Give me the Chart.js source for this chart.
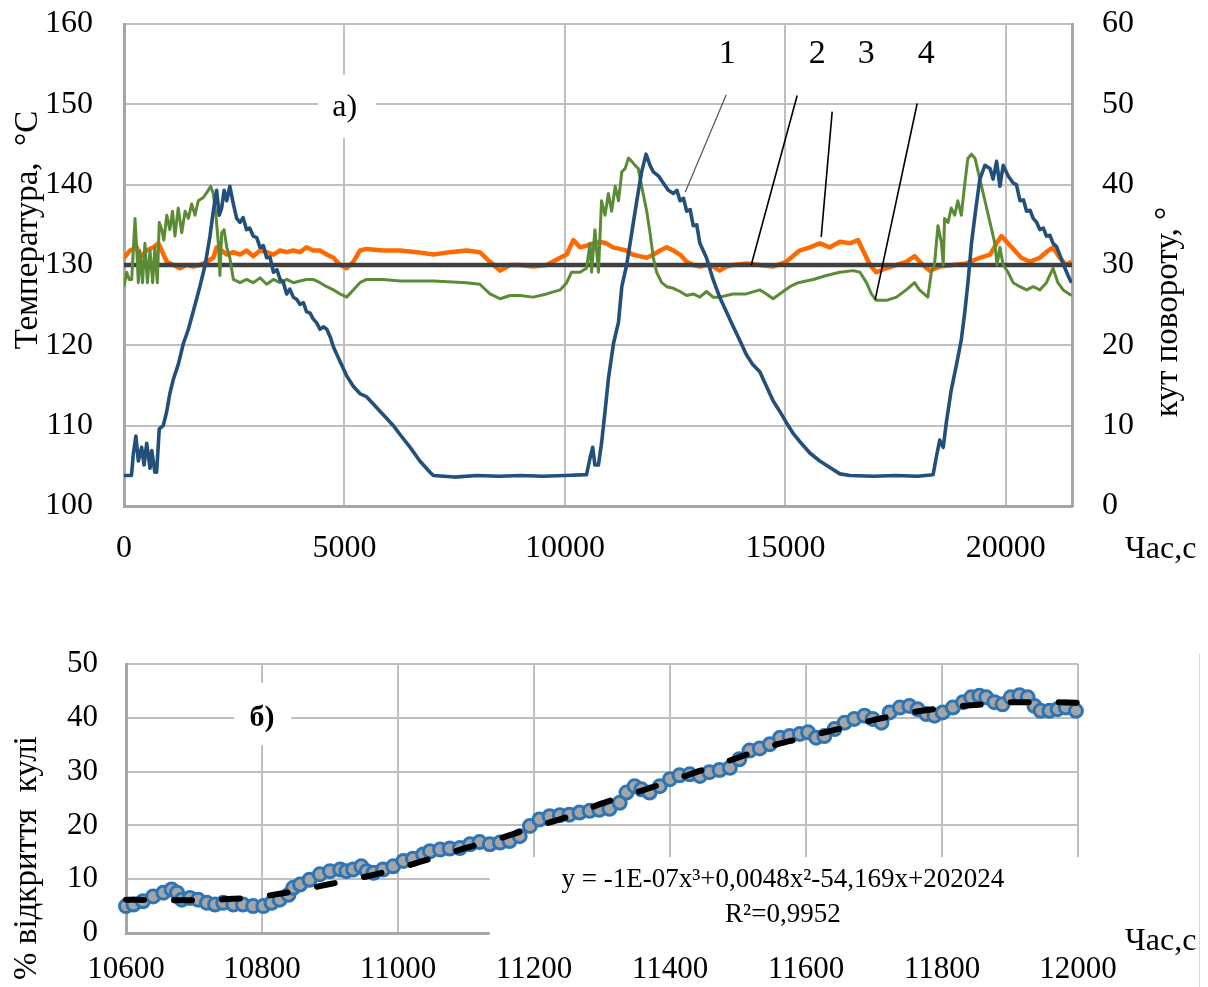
<!DOCTYPE html>
<html>
<head>
<meta charset="utf-8">
<script src="https://cdn.jsdelivr.net/npm/chart.js@4.4.1/dist/chart.umd.min.js"></script>
<style>
html,body{margin:0;padding:0;background:#fff;}
#wrap{position:relative;width:1208px;height:987px;overflow:hidden;background:#fff;}
#cA{position:absolute;left:0;top:0;}
#cB{position:absolute;left:0;top:620px;}
#edge{position:absolute;left:1199px;top:653px;width:1px;height:334px;background:#dcdcdc;}
</style>
</head>
<body>
<div id="wrap">
<canvas id="cA" width="1208" height="600"></canvas>
<canvas id="cB" width="1208" height="367"></canvas>
<div id="edge"></div>
</div>
<script>
// ---------- TICKS ----------
const topTimeTicks = [0, 5000, 10000, 15000, 20000];
const tempTicks = [100, 110, 120, 130, 140, 150, 160];
const angleTicks = [0, 10, 20, 30, 40, 50, 60];
const bottomTimeTicks = [10600, 10800, 11000, 11200, 11400, 11600, 11800, 12000];
const openingTicks = [0, 10, 20, 30, 40, 50];

// ---------- DATA: chart a) (time, s ; value) ----------
// curve 1 : valve rotation angle, degrees (right axis)
const blueSeries = [[0,3.8],[170,3.8],[210,6.4],[270,8.7],[325,5.6],[400,7.3],[455,5.1],[515,7.8],[590,4.7],[630,6.9],[700,4.2],[740,4.2],[800,9.6],[890,10.0],[970,11.8],[1040,14.0],[1120,15.8],[1230,17.6],[1345,20.2],[1460,22.0],[1570,24.2],[1720,27.3],[1840,30.0],[1950,33.6],[2025,36.7],[2100,39.3],[2160,36.2],[2215,37.1],[2270,39.3],[2330,38.0],[2400,39.8],[2480,37.6],[2555,35.8],[2630,35.3],[2700,35.9],[2780,34.4],[2850,34.6],[2930,33.6],[3010,33.4],[3085,32.2],[3160,32.4],[3235,30.9],[3310,31.0],[3390,29.1],[3470,29.4],[3540,28.2],[3610,27.9],[3690,26.4],[3760,27.0],[3840,26.0],[3920,25.7],[3990,25.1],[4070,25.3],[4140,24.2],[4220,24.0],[4290,23.3],[4370,22.8],[4445,22.0],[4520,22.3],[4600,22.0],[4680,21.0],[4750,19.8],[4900,18.0],[5050,16.2],[5200,14.9],[5350,14.0],[5500,13.6],[5655,12.7],[5805,11.8],[5960,10.9],[6110,10.0],[6260,8.9],[6490,7.3],[6710,5.6],[6940,4.2],[7015,3.8],[7500,3.6],[8000,3.8],[8500,3.7],[9000,3.8],[9500,3.7],[10000,3.8],[10490,3.9],[10570,6.0],[10630,7.3],[10680,5.1],[10760,5.1],[10830,7.8],[10910,11.8],[10985,15.8],[11100,20.2],[11215,22.9],[11290,27.3],[11400,30.0],[11515,34.0],[11630,38.0],[11740,41.6],[11840,43.8],[11930,42.4],[12005,41.6],[12120,41.1],[12230,40.2],[12345,39.3],[12460,38.9],[12540,39.3],[12610,38.0],[12690,38.3],[12760,36.7],[12840,36.9],[12910,34.9],[12990,35.0],[13060,32.7],[13210,30.9],[13360,28.2],[13510,26.0],[13660,24.2],[13810,22.4],[13960,20.7],[14110,18.9],[14260,17.6],[14420,16.7],[14570,14.9],[14720,13.1],[14870,11.8],[15020,10.4],[15180,9.0],[15330,8.0],[15555,6.6],[15780,5.6],[16010,4.8],[16235,4.0],[16470,3.8],[17000,3.7],[17500,3.8],[18000,3.7],[18350,3.9],[18420,6.0],[18500,8.2],[18580,7.3],[18650,10.4],[18760,14.4],[18880,17.6],[18990,20.7],[19070,24.2],[19140,27.8],[19220,32.7],[19300,36.2],[19410,40.7],[19525,42.4],[19640,42.0],[19710,40.7],[19790,42.9],[19865,39.8],[19940,42.4],[20050,41.1],[20165,40.2],[20240,40.0],[20320,38.0],[20400,38.1],[20470,36.7],[20550,36.8],[20620,35.8],[20700,35.3],[20770,34.4],[20850,34.6],[20920,33.6],[21000,33.7],[21070,32.7],[21150,32.3],[21220,31.3],[21340,29.6],[21450,28.2],[21490,27.8]];
// curve 2 : set point, °C
const setpointSeries = [[0,130],[21500,130]];
// curve 3 : temperature, °C (orange)
const orangeSeries = [[0,130.9],[135,131.8],[290,132.2],[360,130.9],[515,131.8],[665,132.2],[780,132.7],[855,131.8],[970,130.4],[1120,130.0],[1270,129.6],[1420,130.0],[1570,129.8],[1720,130.0],[1875,130.4],[2025,130.9],[2100,132.2],[2215,131.8],[2330,131.3],[2480,131.6],[2630,131.3],[2780,131.8],[2930,131.1],[3085,131.8],[3235,131.6],[3390,131.3],[3540,131.8],[3690,131.6],[3840,131.8],[3990,131.6],[4140,132.2],[4290,131.8],[4445,131.8],[4600,131.3],[4750,130.9],[4900,130.0],[5050,129.6],[5200,130.4],[5350,131.8],[5500,132.0],[5880,131.8],[6260,131.8],[6640,131.6],[7015,131.3],[7395,131.6],[7770,131.8],[8070,131.6],[8300,130.4],[8530,129.3],[8755,130.0],[8980,130.0],[9280,129.8],[9585,130.0],[9890,130.9],[10040,131.3],[10190,133.1],[10340,132.2],[10490,132.4],[10640,132.7],[10790,132.9],[10940,132.7],[11090,132.2],[11240,132.0],[11390,131.8],[11540,131.3],[11690,131.1],[11855,130.9],[12005,131.3],[12160,131.8],[12310,132.2],[12460,131.8],[12610,131.3],[12760,130.4],[12910,130.0],[13060,129.8],[13210,130.0],[13360,129.8],[13510,129.3],[13660,129.8],[13810,130.0],[14110,130.2],[14420,130.0],[14720,129.8],[15020,130.4],[15320,131.8],[15555,132.2],[15780,132.7],[16010,132.2],[16235,132.9],[16460,132.7],[16650,133.1],[16760,131.8],[16920,130.0],[17060,129.1],[17290,129.6],[17520,130.0],[17740,130.4],[17930,131.1],[18120,130.0],[18270,129.3],[18500,129.8],[18800,130.0],[19100,130.2],[19410,130.9],[19640,131.3],[19790,132.7],[19900,133.6],[20050,132.7],[20200,131.8],[20350,130.9],[20545,130.4],[20770,130.9],[20960,131.8],[21070,132.2],[21220,130.9],[21370,130.0],[21490,130.4]];
// curve 4 : temperature, °C (green)
const greenSeries = [[0,127.3],[60,129.1],[120,128.2],[175,128.2],[250,135.8],[290,131.8],[325,127.8],[360,131.8],[420,127.8],[475,132.7],[530,127.8],[590,131.8],[650,127.8],[700,132.2],[755,127.8],[800,135.3],[855,134.4],[905,133.1],[970,136.2],[1040,134.4],[1100,136.7],[1155,133.6],[1230,137.1],[1310,134.0],[1385,136.7],[1460,135.8],[1535,137.6],[1610,136.2],[1685,138.0],[1800,138.4],[1910,139.3],[1965,139.8],[2025,138.9],[2085,136.2],[2140,132.7],[2175,128.7],[2215,134.0],[2270,134.4],[2330,132.2],[2400,130.9],[2480,128.2],[2630,127.8],[2780,128.2],[2930,127.8],[3085,128.4],[3235,127.6],[3390,128.2],[3540,127.8],[3690,128.2],[3840,127.8],[3990,128.0],[4140,128.2],[4290,128.2],[4445,127.8],[4600,127.3],[4750,126.9],[4900,126.4],[5050,126.0],[5200,126.9],[5350,127.8],[5500,128.2],[5880,128.2],[6260,128.0],[7015,128.0],[7770,127.8],[8070,127.6],[8300,126.4],[8530,125.8],[8755,126.2],[8980,126.2],[9280,126.0],[9585,126.4],[9890,126.9],[10040,127.8],[10150,129.1],[10340,129.1],[10490,129.6],[10570,132.7],[10605,129.1],[10680,134.4],[10760,129.1],[10830,138.0],[10910,136.2],[10985,138.9],[11060,136.7],[11140,139.8],[11215,138.0],[11290,141.6],[11365,142.0],[11440,143.3],[11515,142.9],[11590,142.4],[11665,142.0],[11740,139.8],[11855,136.7],[11930,134.0],[12005,130.9],[12080,129.1],[12195,127.8],[12310,127.3],[12460,127.1],[12610,126.7],[12760,126.2],[12910,126.4],[13060,126.0],[13210,126.7],[13360,126.0],[13510,126.0],[13810,126.4],[14110,126.4],[14420,126.9],[14570,126.4],[14720,125.8],[14870,126.4],[15100,127.3],[15290,127.8],[15630,128.2],[15930,128.7],[16235,129.1],[16540,129.3],[16690,129.1],[16840,127.8],[16950,126.4],[17060,125.6],[17290,125.6],[17520,126.0],[17740,126.9],[17930,127.8],[18040,126.9],[18230,126.0],[18310,129.1],[18380,130.0],[18460,134.9],[18540,132.7],[18580,130.0],[18610,135.8],[18690,135.3],[18760,137.1],[18840,136.2],[18910,138.0],[18990,136.2],[19070,140.2],[19140,143.3],[19220,143.8],[19300,143.3],[19410,140.7],[19525,138.0],[19640,135.3],[19750,132.7],[19800,130.0],[19865,132.2],[19940,130.0],[20050,129.1],[20165,127.8],[20320,127.3],[20470,126.9],[20620,127.3],[20770,126.9],[20920,127.8],[21070,129.6],[21180,127.8],[21300,126.9],[21490,126.2]];

// ---------- DATA: chart б) ----------
const openingSeries = [[10600,5.0],[10611,5.3],[10625,5.9],[10640,6.8],[10655,7.5],[10667,8.1],[10675,7.5],[10682,6.2],[10694,6.5],[10706,6.2],[10719,5.6],[10731,5.3],[10743,5.6],[10758,5.3],[10772,5.3],[10787,5.0],[10802,5.0],[10814,5.6],[10826,6.2],[10839,7.1],[10846,8.4],[10856,9.0],[10870,9.9],[10885,10.9],[10900,11.5],[10915,11.8],[10924,11.5],[10934,11.8],[10946,12.4],[10954,11.5],[10964,11.2],[10978,11.8],[10993,12.4],[11008,13.4],[11022,13.8],[11037,14.6],[11047,15.2],[11062,15.5],[11076,15.7],[11091,15.8],[11106,16.5],[11120,16.9],[11135,16.5],[11150,16.8],[11164,17.1],[11179,18.0],[11194,19.9],[11208,21.1],[11223,21.7],[11238,21.9],[11252,22.0],[11267,22.4],[11282,22.7],[11296,22.9],[11311,23.1],[11326,24.2],[11336,26.1],[11348,27.3],[11358,26.7],[11370,26.1],[11385,27.3],[11400,28.6],[11414,29.3],[11429,29.5],[11444,29.2],[11458,29.9],[11473,30.3],[11488,30.7],[11502,32.3],[11517,33.9],[11532,34.3],[11547,35.1],[11562,36.3],[11576,36.6],[11591,37.0],[11603,37.3],[11615,36.3],[11627,36.6],[11642,37.9],[11657,39.1],[11671,39.8],[11686,40.4],[11698,39.8],[11711,39.1],[11723,41.0],[11738,41.9],[11752,42.2],[11764,41.6],[11777,40.7],[11789,40.4],[11801,41.0],[11816,41.9],[11831,42.9],[11843,43.8],[11855,44.1],[11865,43.8],[11877,42.9],[11889,42.5],[11901,43.8],[11914,44.2],[11926,43.8],[11936,42.2],[11945,41.3],[11958,41.3],[11970,41.6],[11982,41.9],[11997,41.3]];
const trendSeries = [[10600,6.2],[10650,6.1],[10700,6.1],[10750,6.3],[10800,6.8],[10850,7.8],[10900,9.1],[10950,10.4],[11000,12.0],[11050,13.9],[11100,15.8],[11150,17.6],[11200,19.7],[11250,21.6],[11300,24.1],[11350,26.1],[11400,28.2],[11450,30.4],[11500,32.6],[11550,34.8],[11600,36.4],[11650,38.0],[11700,39.6],[11750,40.9],[11800,41.8],[11850,42.4],[11900,42.9],[11950,42.9],[12000,42.8]];

// ---------- TEXT ----------
const topLeftTitle = 'Температура,  °C';
const topRightTitle = 'кут повороту, °';
const timeTitle = 'Час,с';
const bottomLeftTitle = '% відкриття  кулі';
const eqLine1 = 'y = -1E-07x³+0,0048x²-54,169x+202024';
const eqLine2 = 'R²=0,9952';
const panelA = 'а)';
const panelB = 'б)';
// curve number labels: [text, labelT, labelV, lineFromT, lineFromV, lineToT, lineToV]
const curveLabels = [
  ['1', 13680, 156.3, 13658, 151.2, 12730, 139.1],
  ['2', 15721, 156.3, 15267, 151.1, 14225, 130.0],
  ['3', 16832, 156.3, 16061, 149.1, 15812, 133.5],
  ['4', 18193, 156.3, 17989, 150.1, 17036, 125.7]
];

const SERIF = "'Liberation Serif', 'Times New Roman', serif";
const toXY = arr => arr.map(([x, y]) => ({x, y}));
const GRID = '#bfbfbf';
const BORDER = '#a6a6a6';
const NONE = 'rgba(0,0,0,0)';
const setTicks = list => (s => { s.ticks = list.map(v => ({value: v})); });

function vText(ctx, text, x, y, size) {
  ctx.save();
  ctx.translate(x, y);
  ctx.rotate(-Math.PI / 2);
  ctx.font = size + 'px ' + SERIF;
  ctx.textAlign = 'center';
  ctx.textBaseline = 'middle';
  ctx.fillStyle = '#000';
  ctx.fillText(text, 0, 0);
  ctx.restore();
}
function boxText(ctx, xs, ys, t0, t1, v0, v1, tc, vc, text, font) {
  const xa = xs.getPixelForValue(t0), xb = xs.getPixelForValue(t1);
  const ya = ys.getPixelForValue(v0), yb = ys.getPixelForValue(v1);
  ctx.save();
  ctx.fillStyle = '#fff';
  ctx.fillRect(Math.min(xa, xb), Math.min(ya, yb), Math.abs(xb - xa), Math.abs(yb - ya));
  ctx.font = font;
  ctx.fillStyle = '#000';
  ctx.textAlign = 'center';
  ctx.textBaseline = 'middle';
  ctx.fillText(text, xs.getPixelForValue(tc), ys.getPixelForValue(vc));
  ctx.restore();
}

const topDecor = {
  id: 'topDecor',
  beforeDatasetsDraw(chart) {
    const {ctx, scales: {x, y}} = chart;
    boxText(ctx, x, y, 4400, 5710, 153.7, 145.8, 5005, 149.6, panelA, '32px ' + SERIF);
  },
  afterDatasetsDraw(chart) {
    const {ctx, scales: {x, y}} = chart;
    ctx.save();
    curveLabels.forEach(([txt, lt, lv, ft, fv, tt, tv], i) => {
      ctx.beginPath();
      ctx.strokeStyle = i === 0 ? '#555' : '#000';
      ctx.lineWidth = i === 0 ? 1.2 : 1.6;
      ctx.moveTo(x.getPixelForValue(ft), y.getPixelForValue(fv));
      ctx.lineTo(x.getPixelForValue(tt), y.getPixelForValue(tv));
      ctx.stroke();
      ctx.font = '34px ' + SERIF;
      ctx.fillStyle = '#000';
      ctx.textAlign = 'center';
      ctx.textBaseline = 'middle';
      ctx.fillText(txt, x.getPixelForValue(lt), y.getPixelForValue(lv));
    });
    ctx.restore();
  },
  afterDraw(chart) {
    const {ctx, chartArea: ca} = chart;
    vText(ctx, topLeftTitle, ca.left - 96, 230, 33);
    vText(ctx, topRightTitle, ca.right + 96, 312, 33);
    ctx.save();
    ctx.font = '32px ' + SERIF;
    ctx.fillStyle = '#000';
    ctx.textAlign = 'left';
    ctx.textBaseline = 'middle';
    ctx.fillText(timeTitle, ca.right + 53, ca.bottom + 44);
    ctx.restore();
  }
};

const bottomDecor = {
  id: 'bottomDecor',
  beforeDatasetsDraw(chart) {
    const {ctx, scales: {x, y}, chartArea: ca} = chart;
    const xa = x.getPixelForValue(11135), ya = y.getPixelForValue(14.1);
    ctx.save();
    ctx.fillStyle = '#fff';
    ctx.fillRect(xa, ya, ca.right + 4 - xa, ca.bottom + 4 - ya);
    ctx.restore();
    boxText(ctx, x, y, 10759, 10843, 46.5, 34.9, 10800, 40, panelB, 'bold 30px ' + SERIF);
  },
  afterDatasetsDraw(chart) {
    const {ctx, scales: {x, y}} = chart;
    ctx.save();
    ctx.font = '27px ' + SERIF;
    ctx.fillStyle = '#000';
    ctx.textAlign = 'center';
    ctx.textBaseline = 'middle';
    ctx.fillText(eqLine1, x.getPixelForValue(11566), y.getPixelForValue(9.85));
    ctx.fillText(eqLine2, x.getPixelForValue(11566), y.getPixelForValue(3.35));
    ctx.restore();
  },
  afterDraw(chart) {
    const {ctx, chartArea: ca} = chart;
    vText(ctx, bottomLeftTitle, ca.left - 99, 238, 33);
    ctx.save();
    ctx.font = '32px ' + SERIF;
    ctx.fillStyle = '#000';
    ctx.textAlign = 'left';
    ctx.textBaseline = 'middle';
    ctx.fillText(timeTitle, ca.right + 47, ca.bottom + 9);
    ctx.restore();
  }
};

const tickFont = s => ({family: SERIF, size: s});

// place the plot area where the reference has it
function settle(chart, want) {
  for (let k = 0; k < 5; k++) {
    const ca = chart.chartArea;
    const dt = want.top - ca.top, db = want.bottom - ca.bottom;
    const dl = want.left - ca.left, dr = want.right - ca.right;
    if (Math.abs(dt) < 0.5 && Math.abs(db) < 0.5 && Math.abs(dl) < 0.5 && Math.abs(dr) < 0.5) break;
    const p = Object.assign({}, chart.config.options.layout.padding);
    p.top += dt; p.bottom -= db; p.left += dl; p.right -= dr;
    chart.config.options.layout.padding = p;
    chart.update('none');
  }
}

// vertical axes: label gap made with an invisible tick mark (keeps top/bottom padding small)
const vGrid = (len, show) => ({display: true, drawOnChartArea: show, color: show ? GRID : NONE, lineWidth: 2, drawTicks: true, tickLength: len, tickColor: NONE});

const chartA = new Chart(document.getElementById('cA'), {
  type: 'line',
  data: {
    datasets: [
      {label: '1', data: toXY(blueSeries), yAxisID: 'y2', borderColor: '#22507a', borderWidth: 3.6, pointRadius: 0, tension: 0, borderJoinStyle: 'round'},
      {label: '4', data: toXY(greenSeries), yAxisID: 'y', borderColor: '#5b8c35', borderWidth: 3, pointRadius: 0, tension: 0, borderJoinStyle: 'round'},
      {label: '2', data: toXY(setpointSeries), yAxisID: 'y', borderColor: '#404040', borderWidth: 4.5, pointRadius: 0},
      {label: '3', data: toXY(orangeSeries), yAxisID: 'y', borderColor: '#ff6a00', borderWidth: 4.5, pointRadius: 0, tension: 0, borderJoinStyle: 'round'}
    ]
  },
  options: {
    responsive: false, animation: false, devicePixelRatio: 1,
    layout: {padding: {top: 24, left: 0, right: 0, bottom: 0}},
    plugins: {legend: {display: false}, tooltip: {enabled: false}},
    scales: {
      x: {
        type: 'linear', min: 0, max: 21500,
        afterBuildTicks: setTicks(topTimeTicks),
        ticks: {autoSkip: false, maxRotation: 0, padding: 23, color: '#000', font: tickFont(32), callback: v => String(v)},
        grid: {color: GRID, lineWidth: 2, drawTicks: false},
        border: {color: BORDER, width: 3},
        afterFit(s) { s.height = 94; }
      },
      y: {
        position: 'left', min: 100, max: 160,
        afterBuildTicks: setTicks(tempTicks),
        ticks: {padding: 0, color: '#000', font: tickFont(32), callback: v => String(v)},
        grid: vGrid(31, true),
        border: {color: BORDER, width: 3},
        afterFit(s) { s.width = 124; }
      },
      y2: {
        position: 'right', min: 0, max: 60,
        afterBuildTicks: setTicks(angleTicks),
        ticks: {padding: 0, color: '#000', font: tickFont(32), callback: v => String(v)},
        grid: vGrid(30, false),
        border: {color: BORDER, width: 3},
        afterFit(s) { s.width = 136; }
      }
    }
  },
  plugins: [topDecor]
});
settle(chartA, {top: 24, bottom: 506, left: 124, right: 1072});

const chartB = new Chart(document.getElementById('cB'), {
  type: 'line',
  data: {
    datasets: [
      {label: 'trend', data: toXY(trendSeries), borderColor: '#000', borderWidth: 6, borderDash: [18, 30], borderCapStyle: 'round', pointRadius: 0, tension: 0.4, cubicInterpolationMode: 'monotone', clip: false},
      {label: 'opening', data: toXY(openingSeries), showLine: false, pointRadius: 6.5, pointBorderWidth: 3, pointBorderColor: '#2e75b6', pointBackgroundColor: '#a5a5a5', clip: false}
    ]
  },
  options: {
    responsive: false, animation: false, devicePixelRatio: 1,
    layout: {padding: {top: 44, left: 0, right: 130, bottom: 0}},
    plugins: {legend: {display: false}, tooltip: {enabled: false}},
    scales: {
      x: {
        type: 'linear', min: 10600, max: 12000,
        afterBuildTicks: setTicks(bottomTimeTicks),
        ticks: {autoSkip: false, maxRotation: 0, padding: 18, color: '#000', font: tickFont(31), callback: v => String(v)},
        grid: {color: GRID, lineWidth: 2, drawTicks: false},
        border: {color: BORDER, width: 3},
        afterFit(s) { s.height = 54; }
      },
      y: {
        position: 'left', min: 0, max: 50,
        afterBuildTicks: setTicks(openingTicks),
        ticks: {padding: 0, color: '#000', font: tickFont(31), callback: v => String(v)},
        grid: vGrid(28, true),
        border: {color: BORDER, width: 3},
        afterFit(s) { s.width = 126; }
      }
    }
  },
  plugins: [bottomDecor]
});
settle(chartB, {top: 44, bottom: 313, left: 126, right: 1078});
</script>
</body>
</html>
